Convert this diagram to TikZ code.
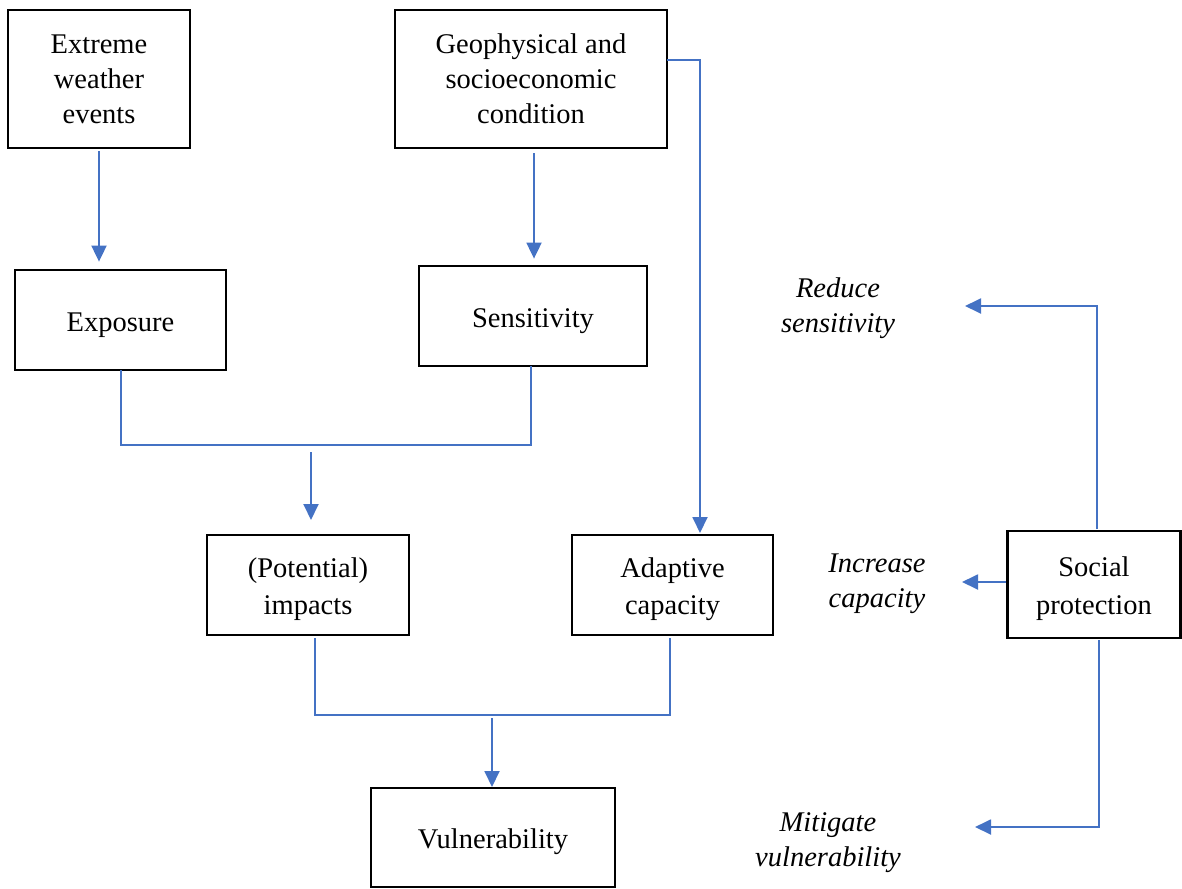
\documentclass[tikz,border=0pt]{standalone}
\usepackage{fontspec}
\setmainfont{Liberation Serif}
\usetikzlibrary{arrows.meta}
\definecolor{lineblue}{HTML}{4472C4}
\tikzset{
  box/.style={draw=black, line width=2.8pt, fill=white, align=center, inner sep=0pt,
    font=\fontsize{28.5}{35}\selectfont},
  twoline/.style={font=\fontsize{28.5}{37.5}\selectfont},
  lbl/.style={align=center, inner sep=0pt, font=\fontsize{28.5}{35}\selectfont\itshape},
  conn/.style={draw=lineblue, line width=1.9pt},
  arr/.style={conn, -{Triangle[length=16pt,width=15pt]}},
}
\newcommand{\lowr}[1]{\raisebox{-4pt}[20pt][6pt]{#1}}
\begin{document}
\begin{tikzpicture}[x=1pt,y=-1pt]
\useasboundingbox (0,0) rectangle (1182,888);
% boxes
\node[box, minimum width=182pt, minimum height=138pt] (ext) at (99,79) {Extreme\\weather\\events};
\node[box, minimum width=272pt, minimum height=138pt] (geo) at (531,79) {Geophysical and\\socioeconomic\\condition};
\node[box, minimum width=211pt, minimum height=100pt] (exp) at (120.5,320) {\lowr{Exposure}};
\node[box, minimum width=228pt, minimum height=100pt] (sen) at (533,316) {\lowr{Sensitivity}};
\node[box, twoline, minimum width=202pt, minimum height=100pt] (imp) at (308,585) {\lowr{(Potential)}\\\lowr{impacts}};
\node[box, twoline, minimum width=201pt, minimum height=100pt] (ada) at (672.5,585) {\lowr{Adaptive}\\\lowr{capacity}};
\node[box, twoline, minimum width=173pt, minimum height=107pt] (soc) at (1094,584.5) {\lowr{Social}\\\lowr{protection}};
\node[box, minimum width=244pt, minimum height=99pt] (vul) at (493,837.5) {\lowr{Vulnerability}};
% labels
\node[lbl] (red) at (838,308) {Reduce\\sensitivity};
\node[lbl] (inc) at (877,584) {Increase\\capacity};
\node[lbl] (mit) at (828,843) {Mitigate\\vulnerability};
% coordinates
\coordinate (g1) at (667,60);
\coordinate (g2) at (700,60);
\coordinate (a1) at (700,533);
\coordinate (e1) at (121,370);
\coordinate (e2) at (121,445);
\coordinate (s1) at (531,445);
\coordinate (s2) at (531,366);
\coordinate (j1) at (311,452);
\coordinate (j2) at (311,520);
\coordinate (i1) at (315,638);
\coordinate (i2) at (315,715);
\coordinate (d1) at (670,715);
\coordinate (d2) at (670,638);
\coordinate (k1) at (492,718);
\coordinate (k2) at (492,787);
\coordinate (p1) at (1097,529);
\coordinate (p2) at (1097,306);
\coordinate (rt) at (965,306);
\coordinate (it) at (962,582);
\coordinate (q1) at (1099,640);
\coordinate (q2) at (1099,827);
\coordinate (mt) at (975,827);
% connectors
\draw[arr] ([yshift=-2pt]ext.south) -- ([yshift=7pt]ext.south |- exp.north);
\draw[arr] ([xshift=3pt,yshift=-4pt]geo.south) -- ([xshift=3pt,yshift=6pt]geo.south |- sen.north);
\draw[arr] (g1) -- (g2) -- (a1);
\draw[conn] (e1) -- (e2) -- (s1) -- (s2);
\draw[arr] (j1) -- (j2);
\draw[conn] (i1) -- (i2) -- (d1) -- (d2);
\draw[arr] (k1) -- (k2);
\draw[arr] (p1) -- (p2) -- (rt);
\draw[arr] (soc.west |- it) -- (it);
\draw[arr] (q1) -- (q2) -- (mt);
\end{tikzpicture}
\end{document}
